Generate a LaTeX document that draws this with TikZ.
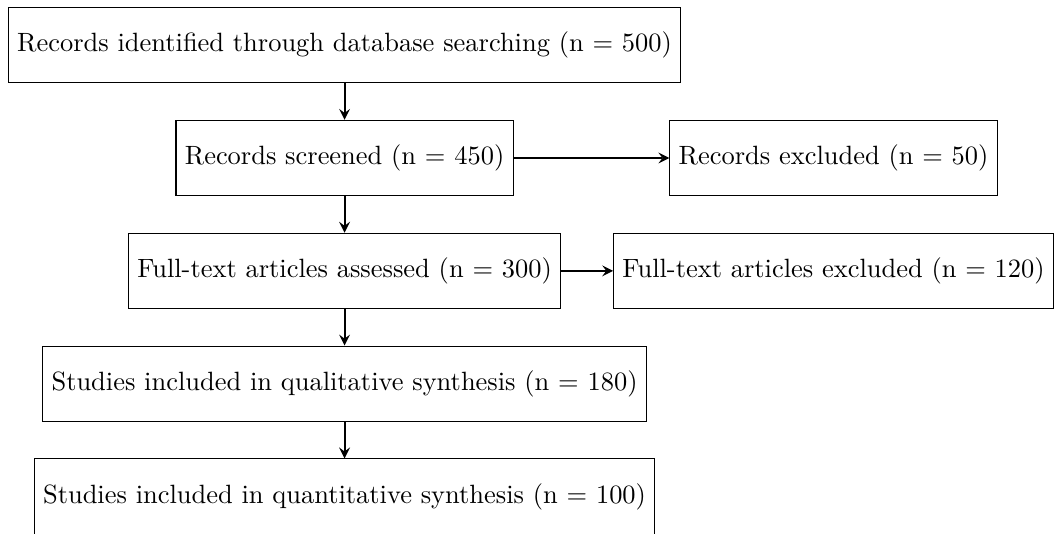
\documentclass[tikz,border=0pt]{standalone}
\begin{document}
\begin{tikzpicture}[
  box/.style={draw, rectangle, minimum height=1cm, align=center},
  conn/.style={-stealth, thick}
]
\useasboundingbox (-4.58,0.6) rectangle (9.43,-6.485);
\node[box] (id) at (0,0) {Records identified through database searching (n = 500)};
\node[box] (sc) at (0,-1.5) {Records screened (n = 450)};
\node[box] (ex) at (6.5,-1.5) {Records excluded (n = 50)};
\node[box] (ft) at (0,-3) {Full-text articles assessed (n = 300)};
\node[box] (fx) at (6.5,-3) {Full-text articles excluded (n = 120)};
\node[box] (ql) at (0,-4.5) {Studies included in qualitative synthesis (n = 180)};
\node[box] (qn) at (0,-6) {Studies included in quantitative synthesis (n = 100)};
\draw[conn] (id) -- (sc);
\draw[conn] (sc) -- (ex);
\draw[conn] (sc) -- (ft);
\draw[conn] (ft) -- (fx);
\draw[conn] (ft) -- (ql);
\draw[conn] (ql) -- (qn);
\end{tikzpicture}
\end{document}
